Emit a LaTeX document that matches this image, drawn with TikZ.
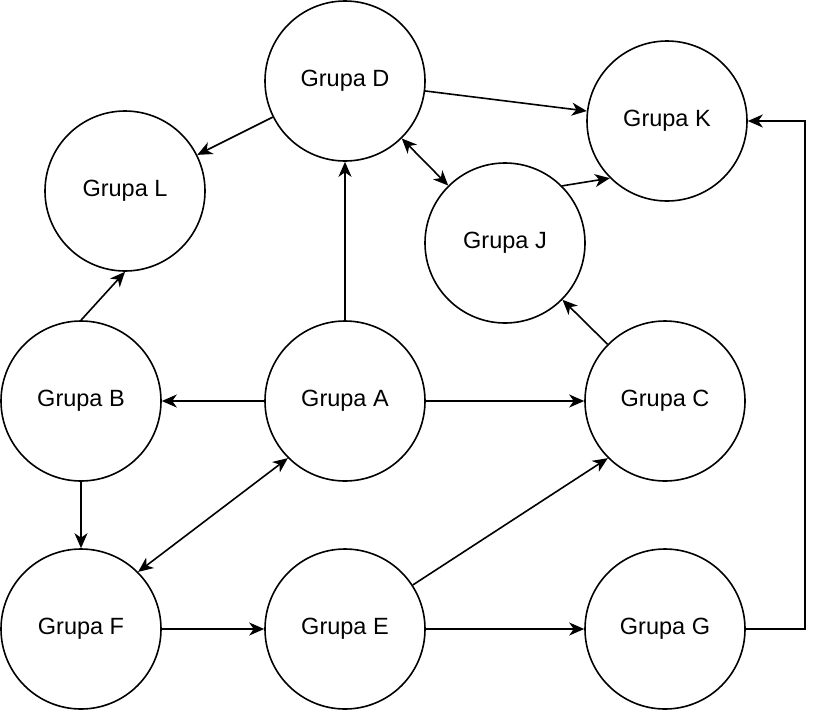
\documentclass[tikz,border=0pt]{standalone}
\usepackage{fontspec}
\setmainfont{Liberation Sans}
\usepackage{tikz}
\usetikzlibrary{arrows.meta}
\tikzset{>={Stealth[length=15pt,width=13pt,inset=4.5pt]}}
\tikzset{grupa/.style={draw,circle,line width=1.6pt,minimum size=160pt,inner sep=0pt,font=\fontsize{23.5}{28}\selectfont}}

\begin{document}
\begin{tikzpicture}[x=1pt,y=-1pt,line width=1.6pt]
\useasboundingbox (0,0) rectangle (822,710);

    \node[grupa] (grupaD) at (345,81) {Grupa D};
    \node[grupa] (grupaK) at (667,121) {Grupa K};
    \node[grupa] (grupaL) at (125,191) {Grupa L};
    \node[grupa] (grupaJ) at (505,243) {Grupa J};
    \node[grupa] (grupaB) at (81,401) {Grupa B};
    \node[grupa] (grupaA) at (345,401) {Grupa A};
    \node[grupa] (grupaC) at (665,401) {Grupa C};
    \node[grupa] (grupaF) at (81,629) {Grupa F};
    \node[grupa] (grupaE) at (345,629) {Grupa E};
    \node[grupa] (grupaG) at (665,629) {Grupa G};
    \coordinate (zakret) at (805,629);

    \draw[->] (grupaD) -- (grupaL);
    \draw[->] (grupaD) -- (grupaK);
    \draw[<->] (grupaD) -- (grupaJ);
    \draw[->] (grupaJ.45) -- (grupaK.225);
    \draw[->] (grupaA) -- (grupaD);
    \draw[->] (grupaB.north) -- (grupaL.south);
    \draw[->] (grupaA) -- (grupaB);
    \draw[->] (grupaA) -- (grupaC);
    \draw[->] (grupaC) -- (grupaJ);
    \draw[<->] (grupaA.225) -- (grupaF.45);%podwojna
    \draw[->] (grupaB) -- (grupaF);
    \draw[->] (grupaF) -- (grupaE);
    \draw[->] (grupaE.33) -- (grupaC.225);
    \draw[->] (grupaE) -- (grupaG);
    \draw[->] (grupaG.east) -- (zakret) |- (grupaK.east);
\end{tikzpicture}
\end{document}
